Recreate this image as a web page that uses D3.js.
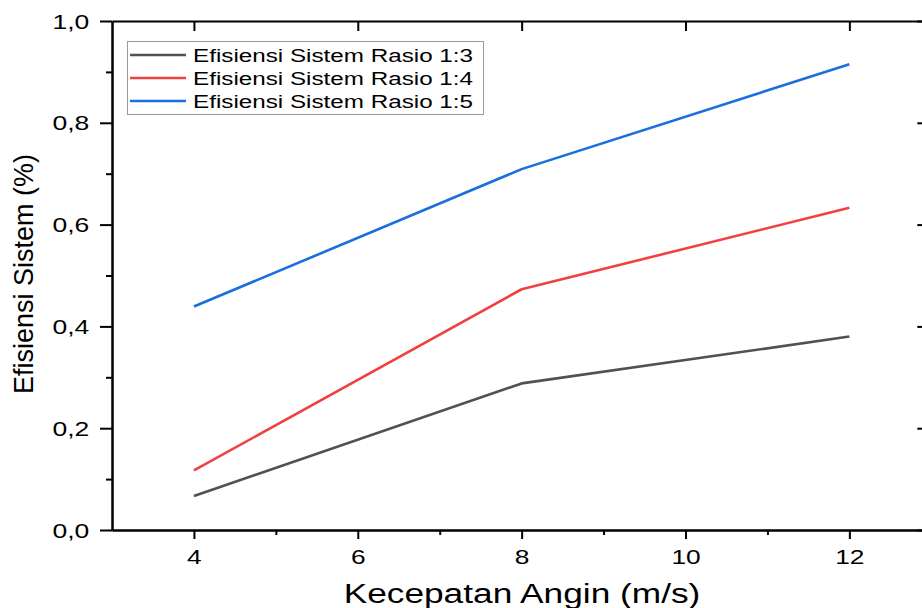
<!DOCTYPE html>
<html>
<head>
<meta charset="utf-8">
<script src="https://cdn.jsdelivr.net/npm/d3@7"></script>
<style>
  body { margin: 0; background: #fff; }
  svg { display: block; font-family: "Liberation Sans", Arial, sans-serif; }
</style>
</head>
<body>
<svg id="chart" width="922" height="608"></svg>
<script>
// data
const speeds = [4, 8, 12]
const rasio13 = [0.067, 0.288, 0.380]
const rasio14 = [0.117, 0.473, 0.633]
const rasio15 = [0.439, 0.709, 0.915]
const seriesNames = ['Efisiensi Sistem Rasio 1:3', 'Efisiensi Sistem Rasio 1:4', 'Efisiensi Sistem Rasio 1:5']
const seriesColors = ['#515151', '#F14040', '#1A6FDF']
const xMajor = [4, 6, 8, 10, 12]
const xMinor = [5, 7, 9, 11]
const yMajor = [0, 0.2, 0.4, 0.6, 0.8, 1.0]
const yMinor = [0.1, 0.3, 0.5, 0.7, 0.9]
const xTitle = 'Kecepatan Angin (m/s)'
const yTitle = 'Efisiensi Sistem (%)'

const svg = d3.select('#chart')
const plotLeft = 112, plotRight = 931.3, plotTop = 21, plotBottom = 530

const xScale = d3.scaleLinear().domain([3, 13]).range([plotLeft, plotRight])
const yScale = d3.scaleLinear().domain([0, 1]).range([plotBottom, plotTop])

const fmt = d => d3.format('.1f')(d).replace('.', ',')

// minor ticks first
svg.append('g')
  .attr('transform', `translate(0, ${plotBottom})`)
  .call(d3.axisBottom(xScale).tickValues(xMinor).tickSize(5).tickSizeOuter(0).tickFormat(''))
svg.append('g')
  .attr('transform', `translate(${plotLeft}, 0)`)
  .call(d3.axisLeft(yScale).tickValues(yMinor).tickSize(6).tickSizeOuter(0).tickFormat(''))

// top and right axes, ticks pointing inward
svg.append('g')
  .attr('transform', `translate(0, ${plotTop})`)
  .call(d3.axisBottom(xScale).tickValues(xMajor).tickSize(10).tickSizeOuter(0).tickFormat(''))
svg.append('g')
  .attr('transform', `translate(${plotRight}, 0)`)
  .call(d3.axisLeft(yScale).tickValues(yMajor).tickSize(14).tickSizeOuter(0).tickFormat(''))

const bottomAxis = svg.append('g')
  .attr('transform', `translate(0, ${plotBottom})`)
  .call(d3.axisBottom(xScale).tickValues(xMajor).tickSize(9).tickSizeOuter(0).tickPadding(11))

const leftAxis = svg.append('g')
  .attr('transform', `translate(${plotLeft}, 0)`)
  .call(d3.axisLeft(yScale).tickValues(yMajor).tickSize(12).tickSizeOuter(0).tickFormat(fmt))

svg.selectAll('.domain, .tick line')
  .attr('stroke', '#000')
  .attr('stroke-width', 2)

bottomAxis.selectAll('text')
  .attr('font-size', 19.5)
  .attr('font-family', '"Liberation Sans", Arial, sans-serif')
  .attr('fill', '#000')
  .attr('transform', 'scale(1.35, 1)')

leftAxis.selectAll('text')
  .attr('font-size', 19.5)
  .attr('font-family', '"Liberation Sans", Arial, sans-serif')
  .attr('fill', '#000')
  .attr('x', 0)
  .attr('dy', '0.36em')
  .attr('transform', 'translate(-22.7, 0) scale(1.36, 1)')

// lines
const allSeries = [rasio13, rasio14, rasio15]
const linegen = d3.line()
  .x((d, i) => xScale(speeds[i]))
  .y(d => yScale(d))

svg.append('g')
  .selectAll('path')
  .data(allSeries)
  .join('path')
  .attr('d', d => linegen(d))
  .attr('fill', 'none')
  .attr('stroke', (d, i) => seriesColors[i])
  .attr('stroke-width', 2.6)
  .attr('stroke-linejoin', 'round')

// legend
const legend = svg.append('g')
legend.append('rect')
  .attr('x', 127.5).attr('y', 41.5)
  .attr('width', 356).attr('height', 73)
  .attr('fill', '#fff')
  .attr('stroke', '#9a9a9a')
  .attr('stroke-width', 1)

const rows = legend.selectAll('g.row')
  .data(seriesNames)
  .join('g')
  .attr('class', 'row')
  .attr('transform', (d, i) => `translate(0, ${55 + i * 23})`)

rows.append('line')
  .attr('x1', 130).attr('x2', 186)
  .attr('stroke', (d, i) => seriesColors[i])
  .attr('stroke-width', 2.6)

rows.append('text')
  .attr('transform', 'translate(193, 6.7) scale(1.31, 1)')
  .attr('font-size', 18.5)
  .attr('fill', '#000')
  .text(d => d)

// axis titles
svg.append('text')
  .attr('transform', 'translate(522, 603.3) scale(1.26, 1)')
  .attr('text-anchor', 'middle')
  .attr('font-size', 28)
  .attr('fill', '#000')
  .text(xTitle)

svg.append('text')
  .attr('transform', 'translate(32.5, 274) rotate(-90)')
  .attr('text-anchor', 'middle')
  .attr('font-size', 27)
  .attr('fill', '#000')
  .text(yTitle)
</script>
</body>
</html>
